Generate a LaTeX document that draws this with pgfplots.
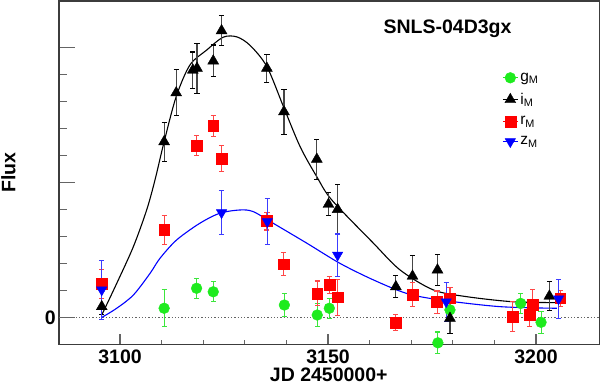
\documentclass[border=0pt]{standalone}
\usepackage{fontspec}
\setmainfont{Liberation Sans}
\usepackage{pgfplots}
\pgfplotsset{compat=1.18}
\usetikzlibrary{calc}
\definecolor{gM}{RGB}{30,235,30}
\definecolor{gMe}{RGB}{60,230,60}
\definecolor{rMe}{RGB}{255,70,70}
\definecolor{zMe}{RGB}{60,60,255}
\definecolor{axc}{RGB}{60,60,60}
\definecolor{tkc}{RGB}{100,100,100}
\definecolor{ie}{RGB}{70,70,70}
\begin{document}
\begin{tikzpicture}
\begin{axis}[
  name=ax,
  scale only axis,
  width=540pt, height=343.3pt,
  xmin=3085.4, xmax=3215.2,
  ymin=-0.985, ymax=11.73,
  axis line style={axc, line width=1.6pt},
  tick pos=left,
  tick align=inside,
  xtick={3100,3150,3200},
  minor x tick num=4,
  ytick={0,5,10},
  yticklabels={0,{},{}},
  minor y tick num=4,
  major tick style={tkc, line width=1.4pt},
  minor tick style={tkc, line width=1.2pt},
  x tick style={/pgfplots/major tick length=10pt, /pgfplots/minor tick length=4.5pt},
  y tick style={/pgfplots/major tick length=16pt, /pgfplots/minor tick length=8pt},
  /pgf/number format/assume math mode=true,
  /pgf/number format/1000 sep={},
  xticklabel style={font=\fontsize{19.5}{20}\selectfont\bfseries, yshift=-2pt},
  yticklabel style={font=\fontsize{19.5}{20}\selectfont\bfseries},
  xlabel={JD 2450000+},
  ylabel={Flux},
  every axis x label/.style={at={(axis description cs:0.499,-0.088)}, anchor=center, font=\fontsize{19.5}{20}\selectfont\bfseries},
  every axis y label/.style={at={(axis description cs:-0.0944,0.5)}, anchor=center, rotate=90, font=\fontsize{19.5}{20}\selectfont\bfseries},
  legend style={draw=none, fill=none, at={(rel axis cs:0.820,0.797)}, anchor=north west,
    font=\fontsize{15.5}{17}\selectfont, row sep=6.5pt, inner sep=0pt},
  legend cell align=left,
  legend image code/.code={\draw[#1, mark=none, solid, line width=1pt] (0pt,0pt) -- (15pt,0pt);
     \draw[#1, only marks] plot coordinates {(7.5pt,0pt)};},
  clip=false,
]
% zero line
\addplot[tkc, dotted, line width=1.3pt, forget plot] coordinates {(3085.4,0) (3215.2,0)};
% fitted curves
\addplot[black, line width=1.1pt, smooth, forget plot] coordinates {
(3095.6,0.10) (3099.2,1.27) (3103.2,2.63) (3106.4,3.99) (3108.4,5.10) (3110.6,6.52)
(3113.5,8.19) (3116.8,9.36) (3120.8,9.91) (3124.8,10.39) (3128.1,10.40) (3131.3,10.08)
(3135.3,9.30) (3139.3,7.81) (3143.3,6.33) (3147.3,5.22) (3150.9,4.36) (3160.9,2.76)
(3167.3,1.77) (3175.3,1.03) (3183.3,0.78) (3194.5,0.59) (3205.0,0.56)};
\addplot[blue, line width=1.1pt, smooth, forget plot] coordinates {
(3095.6,0.01) (3099.2,0.35) (3103.2,0.84) (3107.2,1.64) (3109.6,2.20) (3113.6,2.88)
(3119.2,3.50) (3124.0,3.87) (3128.8,3.99) (3132.0,3.93) (3136.8,3.50) (3144.9,2.76)
(3152.9,2.01) (3160.9,1.40) (3168.9,0.90) (3176.9,0.66) (3191.3,0.41) (3205.0,0.35)};
% g_M
\addplot[gM, only marks, mark=*, mark size=5.4pt, mark options={draw=gM, fill=gM},
  error bars/.cd, y dir=both, y explicit, error mark=-,
  error bar style={gMe, line width=1.1pt}, error mark options={gMe, mark size=2.6pt, line width=1.1pt, rotate=90}]
 coordinates {
(3110.6,0.35) +- (0,0.68)
(3118.4,1.09) +- (0,0.37)
(3122.4,0.96) +- (0,0.37)
(3139.5,0.47) +- (0,0.44)
(3147.4,0.10) +- (0,0.43)
(3150.3,0.35) +- (0,0.37)
(3176.4,-0.93) +- (0,0.40)
(3179.3,0.29) +- (0,0.30)
(3196.3,0.53) +- (0,0.37)
(3201.2,-0.17) +- (0,0.41)};
\addlegendentry{g\textsubscript{M}}
% i_M
\addplot[black, only marks, mark=triangle*, mark size=6.3pt, mark options={draw=black, fill=black},
  error bars/.cd, y dir=both, y explicit, error mark=-,
  error bar style={ie, line width=1.2pt}, error mark options={black, mark size=2.6pt, line width=1.1pt, rotate=90}]
 coordinates {
(3095.6,0.41) +- (0,0.30)
(3110.6,6.52) +- (0,0.72)
(3113.5,8.33) +- (0,0.85)
(3117.5,9.17) +- (0,0.67)
(3118.5,9.24) +- (0,0.93)
(3122.4,9.51) +- (0,0.59)
(3124.4,10.63) +- (0,0.55)
(3135.3,9.24) +- (0,0.52)
(3139.4,7.63) +- (0,0.83)
(3147.3,5.87) +- (0,0.74)
(3150.1,4.20) +- (0,0.43)
(3152.3,4.01) +- (0,0.94)
(3166.3,1.15) +- (0,0.41)
(3170.3,1.54) +- (0,0.75)
(3176.3,1.77) +- (0,0.57)
(3179.3,-0.02) +- (0,0.56)
(3203.2,0.80) +- (0,0.54)};
\addlegendentry{i\textsubscript{M}}
% r_M
\addplot[red, only marks, mark=square*, mark size=5.4pt, mark options={draw=red, fill=red},
  error bars/.cd, y dir=both, y explicit, error mark=-,
  error bar style={rMe, line width=1.1pt}, error mark options={rMe, mark size=2.6pt, line width=1.1pt, rotate=90}]
 coordinates {
(3095.6,1.25) +- (0,0.54)
(3110.6,3.25) +- (0,0.53)
(3118.4,6.37) +- (0,0.37)
(3122.4,7.10) +- (0,0.39)
(3124.4,5.90) +- (0,0.48)
(3135.3,3.58) +- (0,0.33)
(3139.3,1.98) +- (0,0.43)
(3147.4,0.90) +- (0,0.46)
(3150.3,1.21) +- (0,0.31)
(3152.3,0.76) +- (0,0.67)
(3166.3,-0.19) +- (0,0.30)
(3170.3,0.86) +- (0,0.44)
(3176.2,0.58) +- (0,0.41)
(3179.3,0.72) +- (0,0.41)
(3194.4,0.04) +- (0,0.56)
(3198.4,0.10) +- (0,0.43)
(3199.2,0.47) +- (0,0.58)
(3205.8,0.72) +- (0,0.30)};
\addlegendentry{r\textsubscript{M}}
% z_M
\addplot[blue, only marks, mark=triangle*, mark size=6.0pt, mark options={draw=blue, fill=blue, rotate=180},
  error bars/.cd, y dir=both, y explicit, error mark=-,
  error bar style={zMe, line width=1.1pt}, error mark options={zMe, mark size=2.6pt, line width=1.1pt, rotate=90}]
 coordinates {
(3095.6,1.03) +- (0,1.10)
(3124.4,3.89) +- (0,0.81)
(3135.4,3.56) +- (0,0.86)
(3152.3,2.32) +- (0,0.78)
(3178.4,0.59) +- (0,0.73)
(3205.4,0.70) +- (0,0.72)};
\addlegendentry{z\textsubscript{M}}
\node[font=\fontsize{19.5}{20}\selectfont\bfseries, anchor=center] at (rel axis cs:0.719,0.919) {SNLS-04D3gx};
\end{axis}
\pgfresetboundingbox
\useasboundingbox ($(ax.south west)+(-59.3pt,-39.7pt)$) rectangle ($(ax.north east)+(1.7pt,1pt)$);
\end{tikzpicture}
\end{document}
